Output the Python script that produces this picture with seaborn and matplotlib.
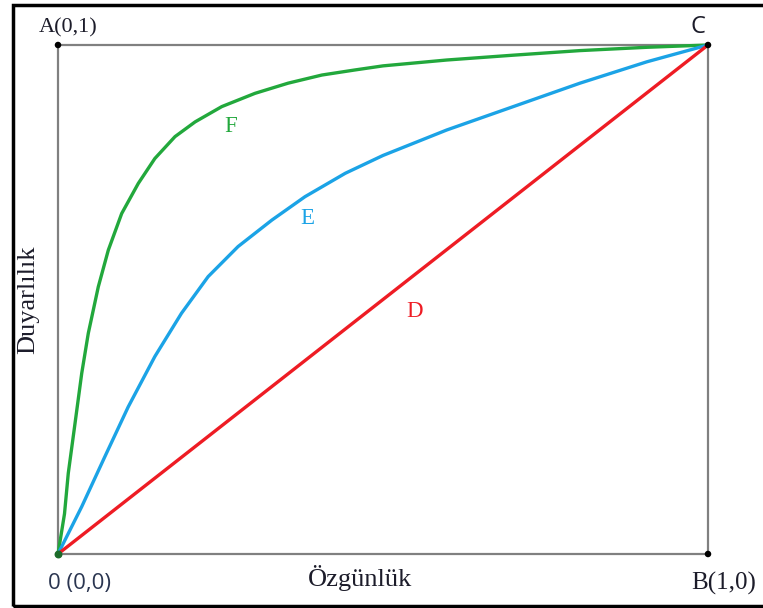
import pandas as pd
import seaborn as sns
import matplotlib.pyplot as plt
from matplotlib.patches import Rectangle

# curve points (x = özgünlük axis, y = duyarlılık axis)
f_x = [0.0, 0.010, 0.0158, 0.0262, 0.0365, 0.0466, 0.062, 0.0774, 0.098, 0.1235,
       0.149, 0.180, 0.211, 0.252, 0.303, 0.354, 0.406, 0.457, 0.500, 0.598,
       0.7005, 0.803, 0.906, 1.0]
f_y = [0.0, 0.079, 0.1585, 0.2568, 0.355, 0.4336, 0.525, 0.597, 0.669, 0.728,
       0.777, 0.820, 0.849, 0.879, 0.905, 0.925, 0.941, 0.951, 0.959, 0.9705,
       0.980, 0.989, 0.9955, 1.0]

e_x = [0.0, 0.0365, 0.072, 0.108, 0.149, 0.190, 0.231, 0.277, 0.329, 0.380,
       0.442, 0.500, 0.598, 0.7005, 0.803, 0.906, 1.0]
e_y = [0.0, 0.093, 0.191, 0.289, 0.388, 0.473, 0.545, 0.604, 0.656, 0.702,
       0.748, 0.783, 0.833, 0.879, 0.925, 0.967, 1.0]

d_x = [0.0, 1.0]
d_y = [0.0, 1.0]

curve_names = ["F", "E", "D"]
curve_colors = ["#22a83c", "#1ba3e6", "#ee1c24"]
label_pos = [(0.265, 0.839), (0.383, 0.659), (0.549, 0.476)]

corner_x = [0.0, 1.0, 1.0]
corner_y = [1.0, 1.0, 0.0]

df = pd.concat([
    pd.DataFrame({"x": f_x, "y": f_y, "curve": "F"}),
    pd.DataFrame({"x": e_x, "y": e_y, "curve": "E"}),
    pd.DataFrame({"x": d_x, "y": d_y, "curve": "D"}),
])

sns.set_theme(style="white")
plt.rcParams['font.family'] = ['Liberation Serif', 'DejaVu Serif']

fig = plt.figure(figsize=(7.63, 6.08), dpi=100)
ax = fig.add_axes([58 / 763, 1 - 554 / 608, 650 / 763, 509 / 608])

for name, col in zip(curve_names, curve_colors):
    sub = df[df["curve"] == name]
    sns.lineplot(x="x", y="y", data=sub, ax=ax, color=col, linewidth=2.4,
                 sort=False, estimator=None, clip_on=False, zorder=3,
                 solid_joinstyle="round", solid_capstyle="round")

sns.scatterplot(x=corner_x, y=corner_y, ax=ax, color="black", s=22,
                clip_on=False, zorder=4, edgecolor="none")
ax.scatter([0], [0], color="#1d6b2a", s=22, clip_on=False, zorder=4)

for name, col, (lx, ly) in zip(curve_names, curve_colors, label_pos):
    ax.text(lx, ly, name, color=col, fontsize=16.5, ha="center", va="center")

ax.set_xlim(0, 1)
ax.set_ylim(0, 1)
ax.set_xticks([])
ax.set_yticks([])
ax.set_xlabel("")
ax.set_ylabel("")
for sp in ax.spines.values():
    sp.set_color("#808080")
    sp.set_linewidth(1.6)

def px(x, y):
    return x / 763, 1 - y / 608

txt = "#1c1c2a"
fig.text(*px(68, 28), "A(0,1)", fontsize=16, color=txt, ha="center", va="center")
fig.text(*px(698, 27), "C", fontsize=17, color=txt, ha="center", va="center",
         family=["Open Sans", "DejaVu Sans"])
fig.text(*px(79, 583), "0 (0,0)", fontsize=16, color="#2a3550", ha="center", va="center",
         family=["Open Sans", "DejaVu Sans"])
fig.text(*px(724, 583), "B(1,0)", fontsize=18, color=txt, ha="center", va="center")
fig.text(*px(360, 578), "Özgünlük", fontsize=19, color=txt, ha="center", va="center")
fig.text(*px(28, 300), "Duyarlılık", fontsize=19, color=txt, ha="center", va="center",
         rotation=90)

# outer frame (right side runs off the picture)
fig.patches.append(Rectangle((13 / 763, 2 / 608), 800 / 763, 601 / 608,
                             transform=fig.transFigure, fill=False,
                             edgecolor="black", linewidth=2.5))

plt.savefig("out.png", dpi=100)
plt.close()
